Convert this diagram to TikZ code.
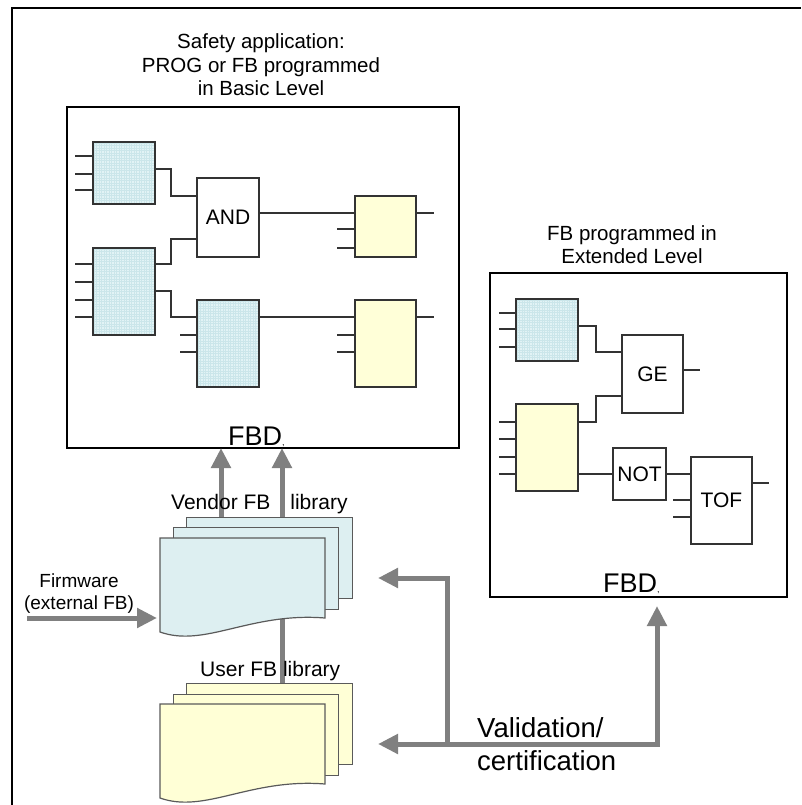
\documentclass[tikz,border=0pt]{standalone}
\usepackage{fontspec}
\setmainfont{Liberation Sans}
\usetikzlibrary{arrows.meta}
\definecolor{blk}{HTML}{333333}
\definecolor{bluefill}{HTML}{E2F3F5}
\definecolor{bluegrid}{HTML}{CBE6EA}
\definecolor{yelfill}{HTML}{FFFFD8}
\definecolor{pageblue}{HTML}{DDEFF1}
\definecolor{pageyel}{HTML}{FFFFD6}
\definecolor{pageedge}{HTML}{5A5A5A}
\definecolor{arrgray}{HTML}{808080}
\tikzset{
  x=1pt, y=-1pt,
  frame/.style={draw=black, line width=1.3pt},
  fbbox/.style={draw=blk, line width=1.1pt, inner sep=0pt, outer sep=0pt, font=\fontsize{21}{23}\selectfont},
  bluebox/.style={fbbox, fill=bluefill, path picture={\draw[bluegrid, line width=0.35pt, step=2.5pt] (path picture bounding box.south west) grid (path picture bounding box.north east);}},
  yelbox/.style={fbbox, fill=yelfill},
  whitebox/.style={fbbox, fill=white},
  wire/.style={draw=blk, line width=1.1pt},
  garr/.style={draw=arrgray, line width=5pt, -{Triangle[length=20pt,width=19pt]}, line join=miter},
  gline/.style={draw=arrgray, line width=5pt},
  page/.style={draw=pageedge, line width=1pt},
  lbl/.style={inner sep=0pt, font=\fontsize{21}{23}\selectfont},
}
\begin{document}
\begin{tikzpicture}
\useasboundingbox (0,0) rectangle (801,805);
\fill[white] (0,0) rectangle (801,805);
% outer frame
\draw[line width=1.8pt] (12,805) -- (12,8) -- (801,8);

% ===== left FBD box =====
\node[frame, minimum width=392pt, minimum height=341pt, inner sep=0pt] (lbox) at (263,277.5) {};
\node[inner sep=0pt, font=\fontsize{20.5}{23}\selectfont, anchor=base] (t1a) at (261,49) {Safety application:};
\node[inner sep=0pt, font=\fontsize{20.5}{23}\selectfont, anchor=base] (t1b) at (261,73) {PROG or FB programmed};
\node[inner sep=0pt, font=\fontsize{20.5}{23}\selectfont, anchor=base] (t1c) at (261,96) {in Basic Level};

\node[bluebox, minimum width=62pt, minimum height=62pt] (b1) at (124,173) {};
\node[whitebox, minimum width=62pt, minimum height=79pt] (and) at (228,217.5) {AND};
\node[yelbox, minimum width=61pt, minimum height=61pt] (y1) at (385.5,226.5) {};
\node[bluebox, minimum width=62pt, minimum height=87pt] (b2) at (124,291.5) {};
\node[bluebox, minimum width=62pt, minimum height=87pt] (b3) at (228,343.5) {};
\node[yelbox, minimum width=61pt, minimum height=87pt] (y2) at (385.5,343.5) {};

% input pins
\foreach \yy in {156,174,190} \draw[wire] (b1.west |- 0,\yy) -- ++(-18,0);
\foreach \yy in {264,282,300,317} \draw[wire] (b2.west |- 0,\yy) -- ++(-18,0);
\foreach \yy in {335,352} \draw[wire] (b3.west |- 0,\yy) -- ++(-17,0);
\foreach \yy in {229,248} \draw[wire] (y1.west |- 0,\yy) -- ++(-18,0);
\foreach \yy in {335,352} \draw[wire] (y2.west |- 0,\yy) -- ++(-18,0);
\draw[wire] (y1.east |- 0,213) -- ++(18,0);
\draw[wire] (y2.east |- 0,317) -- ++(18,0);
% connectors
\draw[wire] (b1.east |- 0,169) -- (171,169) -- (171,196) -- (and.west |- 0,196);
\draw[wire] (b2.east |- 0,264) -- (171,264) -- (171,239) -- (and.west |- 0,239);
\draw[wire] (b2.east |- 0,291) -- (171,291) -- (171,317) -- (b3.west |- 0,317);
\draw[wire] (and.east |- 0,213) -- (y1.west |- 0,213);
\draw[wire] (b3.east |- 0,317) -- (y2.west |- 0,317);

\node[inner sep=0pt, anchor=base west, font=\fontsize{27}{30}\selectfont] (fbd1) at (228,445) {FBD\fontsize{9}{10}\selectfont,};

% ===== right FBD box =====
\node[frame, minimum width=297pt, minimum height=324pt, inner sep=0pt] (rbox) at (638.5,435) {};
\node[inner sep=0pt, font=\fontsize{20.5}{23}\selectfont, anchor=base] (t2a) at (632,240) {FB programmed in};
\node[inner sep=0pt, font=\fontsize{20.5}{23}\selectfont, anchor=base] (t2b) at (632,263) {Extended Level};

\node[bluebox, minimum width=62pt, minimum height=62pt] (rb) at (547,330) {};
\node[whitebox, minimum width=61pt, minimum height=78pt] (ge) at (652.5,374) {GE};
\node[yelbox, minimum width=62pt, minimum height=87pt] (ry) at (547,447.5) {};
\node[whitebox, minimum width=53pt, minimum height=52pt] (not) at (639.5,474) {NOT};
\node[whitebox, minimum width=61pt, minimum height=87pt] (tof) at (721.5,500.5) {TOF};

\foreach \yy in {313,329,347} \draw[wire] (rb.west |- 0,\yy) -- ++(-17,0);
\foreach \yy in {422,439,457,474} \draw[wire] (ry.west |- 0,\yy) -- ++(-17,0);
\foreach \yy in {500,517} \draw[wire] (tof.west |- 0,\yy) -- ++(-18,0);
\draw[wire] (ge.east |- 0,370) -- ++(17,0);
\draw[wire] (tof.east |- 0,483) -- ++(17,0);
\draw[wire] (rb.east |- 0,326) -- (596,326) -- (596,352) -- (ge.west |- 0,352);
\draw[wire] (ry.east |- 0,422) -- (596,422) -- (596,396) -- (ge.west |- 0,396);
\draw[wire] (ry.east |- 0,474) -- (not.west |- 0,474);
\draw[wire] (not.east |- 0,474) -- (tof.west |- 0,474);

\node[inner sep=0pt, anchor=base west, font=\fontsize{27}{30}\selectfont] (fbd2) at (603,592) {FBD\fontsize{9}{10}\selectfont,};

% ===== libraries =====
\coordinate (up1s) at (221,530);
\coordinate (up2s) at (282,530);
\coordinate (up1e) at (221,448);
\coordinate (up2e) at (282,448);
\coordinate (linkA) at (282,615);
\coordinate (linkB) at (282,690);
\draw[garr] (up1s) -- (up1e);
\draw[garr] (up2s) -- (up2e);
\draw[gline] (linkA) -- (linkB);

% vendor pages
\draw[page, fill=pageblue] (186,517) rectangle (352,598);
\draw[page, fill=pageblue] (173,527) rectangle (338,609);
\draw[page, fill=pageblue, line width=1.2pt] (160,538) -- (325,538) -- (325,618)
   .. controls (250,612) and (205,648) .. (160,632) -- cycle;
\node[lbl, anchor=base west] (vlbl) at (171,509) {Vendor FB\hspace{20pt}library};

% user pages
\draw[page, fill=pageyel] (186,683) rectangle (352,764);
\draw[page, fill=pageyel] (173,694) rectangle (338,775);
\draw[page, fill=pageyel, line width=1.2pt] (160,704) -- (325,704) -- (325,784)
   .. controls (250,778) and (205,814) .. (160,798) -- cycle;
\node[lbl, anchor=base west] (ulbl) at (200,676) {User FB library};

% firmware
\node[inner sep=0pt, font=\fontsize{19}{23}\selectfont, anchor=base] (fw1) at (79,587) {Firmware};
\node[inner sep=0pt, font=\fontsize{19}{23}\selectfont, anchor=base] (fw2) at (79,609) {(external FB)};
\coordinate (fwS) at (27,618);
\coordinate (fwE) at (157,618);
\draw[garr] (fwS) -- (fwE);

% validation
\coordinate (vL1) at (378,744);
\coordinate (vC) at (657,744);
\coordinate (vUp) at (657,606);
\coordinate (vM) at (447,744);
\coordinate (vMt) at (447,578);
\coordinate (vL2) at (378,578);
\draw[garr, {Triangle[length=20pt,width=19pt]}-{Triangle[length=20pt,width=19pt]}] (vL1) -- (vC) -- (vUp);
\draw[garr] (vM) -- (vMt) -- (vL2);
\node[inner sep=0pt, font=\fontsize{27.5}{33}\selectfont, anchor=base west] (val1) at (477,737) {Validation/};
\node[inner sep=0pt, font=\fontsize{27.5}{33}\selectfont, anchor=base west] (val2) at (477,770) {certification};
\end{tikzpicture}
\end{document}
